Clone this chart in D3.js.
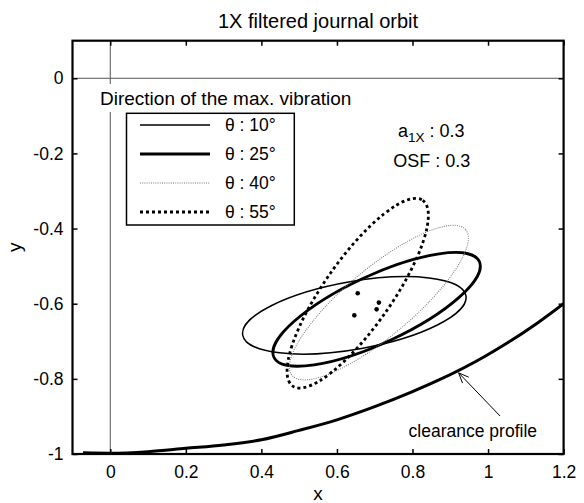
<!DOCTYPE html>
<html><head><meta charset="utf-8">
<script src="https://cdn.jsdelivr.net/npm/d3@7"></script>
<style>
body{margin:0;background:#fff}
text{font-family:"Liberation Sans",Arial,Helvetica,sans-serif;fill:#000}
</style>
</head><body>
<svg id="chart" width="584" height="503"></svg>
<script>
// ---- data ----
const xTicks = [0, 0.2, 0.4, 0.6, 0.8, 1, 1.2];
const yTicks = [0, -0.2, -0.4, -0.6, -0.8, -1];
const thetaLabels = ["θ : 10°", "θ : 25°", "θ : 40°", "θ : 55°"];
const thetaDeg = [10, 25, 40, 55];            // direction of max. vibration
const centerX = [0.646, 0.705, 0.711, 0.655]; // orbit centres (dots)
const centerY = [-0.631, -0.615, -0.597, -0.572];
const semiMajor = [0.3, 0.3, 0.3, 0.3];       // a1X
const semiMinor = [0.09, 0.09, 0.09, 0.09];   // OSF * a1X
const clearanceX = [-0.072, 0, 0.1, 0.2, 0.3, 0.4, 0.5, 0.6, 0.7, 0.8, 0.87, 0.99, 1.13, 1.2];
const clearanceY = [-0.997, -0.998, -0.994, -0.985, -0.976, -0.962, -0.937, -0.909, -0.874, -0.834, -0.803, -0.741, -0.652, -0.6];

// ---- styles ----
const styles = [
  {stroke:"#000", width:1.5, dash:null},
  {stroke:"#000", width:2.8, dash:null},
  {stroke:"#777", width:1.0, dash:"1,1.2"},
  {stroke:"#000", width:2.8, dash:"3,3"}
];

const W = 584, H = 503;
const m = {left:72.5, right:20.4, top:40.7, bottom:49};
const svg = d3.select("#chart");
const x = d3.scaleLinear().domain([-0.1, 1.2]).range([m.left, W - m.right]);
const y = d3.scaleLinear().domain([-1, 0.1]).range([H - m.bottom, m.top]);
const FS = 17.5;

svg.append("rect").attr("width", W).attr("height", H).attr("fill", "#fff");

const clipId = "plotclip";
svg.append("clipPath").attr("id", clipId).append("rect")
  .attr("x", x(-0.1)).attr("y", y(0.1))
  .attr("width", x(1.2) - x(-0.1)).attr("height", y(-1) - y(0.1));

const plot = svg.append("g").attr("clip-path", `url(#${clipId})`);

// zero reference lines
plot.append("line").attr("x1", x(-0.1)).attr("x2", x(1.2)).attr("y1", y(0)).attr("y2", y(0))
  .attr("stroke", "#555").attr("stroke-width", 1);
plot.append("line").attr("x1", x(0)).attr("x2", x(0)).attr("y1", y(0.1)).attr("y2", y(-1))
  .attr("stroke", "#555").attr("stroke-width", 1);

// clearance profile
const clearance = clearanceX.map((v, i) => [v, clearanceY[i]]);
plot.append("path").datum(clearance)
  .attr("d", d3.line().x(d => x(d[0])).y(d => y(d[1])).curve(d3.curveMonotoneX))
  .attr("fill", "none").attr("stroke", "#000").attr("stroke-width", 3)
  .attr("stroke-linejoin", "round");

// orbits
const kx = x(1) - x(0), ky = y(0) - y(1);
thetaDeg.forEach((t, i) => {
  const s = styles[i];
  plot.append("ellipse")
    .attr("cx", 0).attr("cy", 0)
    .attr("rx", semiMajor[i] * kx).attr("ry", semiMinor[i] * ky)
    .attr("transform", `translate(${x(centerX[i])},${y(centerY[i])}) rotate(${-t})`)
    .attr("fill", "none").attr("stroke", s.stroke).attr("stroke-width", s.width)
    .attr("stroke-dasharray", s.dash);
});
// centre dots
plot.selectAll("circle.c").data(centerX).enter().append("circle")
  .attr("cx", d => x(d)).attr("cy", (d, i) => y(centerY[i])).attr("r", 2.3).attr("fill", "#000");

// axes (ticks inward)
const gB = svg.append("g").attr("transform", `translate(0,${y(-1)})`)
  .call(d3.axisBottom(x).tickValues(xTicks).tickSize(-5).tickPadding(12).tickFormat(d => String(d)));
const gT = svg.append("g").attr("transform", `translate(0,${y(0.1)})`)
  .call(d3.axisTop(x).tickValues(xTicks).tickSize(-5).tickFormat(""));
const gL = svg.append("g").attr("transform", `translate(${x(-0.1)},0)`)
  .call(d3.axisLeft(y).tickValues(yTicks).tickSize(-5).tickPadding(9).tickFormat(d => String(d)));
const gR = svg.append("g").attr("transform", `translate(${x(1.2)},0)`)
  .call(d3.axisRight(y).tickValues(yTicks).tickSize(-5).tickFormat(""));
[gB, gT, gL, gR].forEach(g => {
  g.select(".domain").remove();
  g.selectAll(".tick line").attr("stroke", "#000").attr("stroke-width", 1.5);
  g.selectAll("text").attr("font-size", FS).attr("font-family", null);
});

svg.append("rect").attr("x", x(-0.1)).attr("y", y(0.1))
  .attr("width", x(1.2) - x(-0.1)).attr("height", y(-1) - y(0.1))
  .attr("fill", "none").attr("stroke", "#000").attr("stroke-width", 2.2);

// title & axis labels
svg.append("text").attr("x", (x(-0.1) + x(1.2)) / 2).attr("y", 28).attr("text-anchor", "middle")
  .attr("font-size", 20).text("1X filtered journal orbit");
svg.append("text").attr("x", (x(-0.1) + x(1.2)) / 2).attr("y", 500).attr("text-anchor", "middle")
  .attr("font-size", 19).text("x");
svg.append("text").attr("transform", `translate(21,${(y(-1) + y(0.1)) / 2}) rotate(-90)`)
  .attr("text-anchor", "middle").attr("font-size", 19).text("y");

// "Direction of the max. vibration" with white background
svg.append("rect").attr("x", 96).attr("y", 84).attr("width", 266).attr("height", 28).attr("fill", "#fff");
svg.append("text").attr("x", 100).attr("y", 105).attr("font-size", 19).text("Direction of the max. vibration");

// legend
const lg = svg.append("g");
lg.append("rect").attr("x", 126.5).attr("y", 113.3).attr("width", 167.8).attr("height", 111.7)
  .attr("fill", "#fff").attr("stroke", "#000").attr("stroke-width", 1.5);
thetaLabels.forEach((lab, i) => {
  const s = styles[i];
  const base = 131 + i * 29;
  lg.append("line").attr("x1", 140).attr("x2", 210).attr("y1", base - 6).attr("y2", base - 6)
    .attr("stroke", s.stroke).attr("stroke-width", s.width).attr("stroke-dasharray", s.dash);
  lg.append("text").attr("x", 225).attr("y", base).attr("font-size", FS).text(lab);
});

// parameter annotations
const a1 = svg.append("text").attr("x", 398).attr("y", 137).attr("font-size", 18);
a1.append("tspan").text("a");
a1.append("tspan").attr("font-size", 13.5).attr("dy", 5).text("1X");
a1.append("tspan").attr("dy", -5).text(" : 0.3");
svg.append("text").attr("x", 393.3).attr("y", 167).attr("font-size", 18).text("OSF : 0.3");

// clearance profile label with arrow
svg.append("text").attr("x", 537).attr("y", 437).attr("text-anchor", "end").attr("font-size", 17.5)
  .text("clearance profile");
const tail = [x(1.032), y(-0.899)], tip = [x(0.922), y(-0.784)];
svg.append("line").attr("x1", tail[0]).attr("y1", tail[1]).attr("x2", tip[0]).attr("y2", tip[1])
  .attr("stroke", "#000").attr("stroke-width", 1);
const ang = Math.atan2(tail[1] - tip[1], tail[0] - tip[0]);
[0.4, -0.4].forEach(d => {
  svg.append("line").attr("x1", tip[0]).attr("y1", tip[1])
    .attr("x2", tip[0] + 11 * Math.cos(ang + d)).attr("y2", tip[1] + 11 * Math.sin(ang + d))
    .attr("stroke", "#000").attr("stroke-width", 1);
});
</script>
</body></html>
